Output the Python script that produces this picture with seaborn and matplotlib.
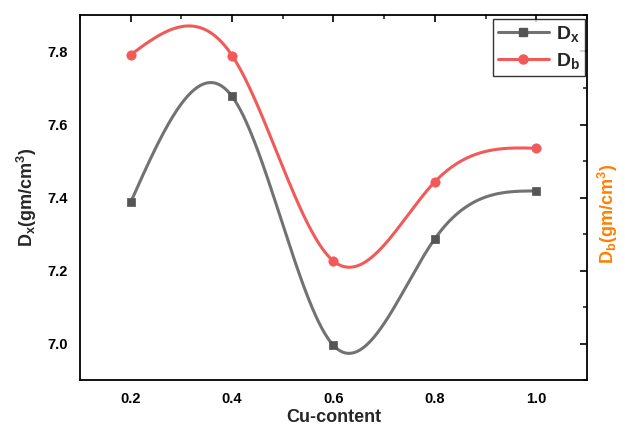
import numpy as np
import pandas as pd
import matplotlib
matplotlib.use("Agg")
import matplotlib.pyplot as plt
import seaborn as sns
from matplotlib.ticker import MultipleLocator
from matplotlib.lines import Line2D

cu_content = [0.2, 0.4, 0.6, 0.8, 1.0]
dx_values = [7.387, 7.677, 6.995, 7.287, 7.418]
db_values = [7.791, 7.789, 7.226, 7.443, 7.535]
x_ticks = [0.2, 0.4, 0.6, 0.8, 1.0]
y_ticks = [7.0, 7.2, 7.4, 7.6, 7.8]


def natural_spline(x, y, n=300):
    x = np.asarray(x, float)
    y = np.asarray(y, float)
    k = len(x)
    h = np.diff(x)
    A = np.zeros((k, k))
    b = np.zeros(k)
    A[0, 0] = 1
    A[-1, -1] = 1
    for i in range(1, k - 1):
        A[i, i - 1] = h[i - 1]
        A[i, i] = 2 * (h[i - 1] + h[i])
        A[i, i + 1] = h[i]
        b[i] = 3 * ((y[i + 1] - y[i]) / h[i] - (y[i] - y[i - 1]) / h[i - 1])
    c = np.linalg.solve(A, b)
    xs = np.linspace(x[0], x[-1], n)
    ys = np.empty_like(xs)
    for j, t in enumerate(xs):
        i = min(np.searchsorted(x, t, side="right") - 1, k - 2)
        bi = (y[i + 1] - y[i]) / h[i] - h[i] * (2 * c[i] + c[i + 1]) / 3
        di = (c[i + 1] - c[i]) / (3 * h[i])
        d = t - x[i]
        ys[j] = y[i] + bi * d + c[i] * d ** 2 + di * d ** 3
    return xs, ys


sns.set_theme(style="white")
plt.rcParams["font.family"] = ["Liberation Sans", "DejaVu Sans"]
plt.rcParams["font.weight"] = "bold"
plt.rcParams["mathtext.fontset"] = "custom"
plt.rcParams["mathtext.rm"] = "Liberation Sans:bold"
plt.rcParams["mathtext.it"] = "Liberation Sans:bold"
plt.rcParams["mathtext.bf"] = "Liberation Sans:bold"
plt.rcParams["mathtext.default"] = "bf"

gray = "#727272"
red = "#f25a5a"

fig = plt.figure(figsize=(6.25, 4.28), dpi=100)
ax = fig.add_axes([0.128, 0.112, 0.811, 0.853])

pts = pd.DataFrame({"x": cu_content, "Dx": dx_values, "Db": db_values})
xs, dx_s = natural_spline(cu_content, dx_values)
_, db_s = natural_spline(cu_content, db_values)
curves = pd.DataFrame({"x": xs, "Dx": dx_s, "Db": db_s})

sns.lineplot(data=curves, x="x", y="Dx", ax=ax, color=gray, lw=2.2)
sns.lineplot(data=curves, x="x", y="Db", ax=ax, color=red, lw=2.2)
sns.scatterplot(data=pts, x="x", y="Dx", ax=ax, marker="s", s=40, color="#555555", edgecolor="#555555", zorder=5)
sns.scatterplot(data=pts, x="x", y="Db", ax=ax, marker="o", s=45, color=red, edgecolor=red, zorder=5)

ax.set_xlim(0.1, 1.1)
ax.set_ylim(6.9, 7.9)
ax.set_xticks(x_ticks)
ax.set_xticklabels([f"{v:.1f}" for v in x_ticks])
ax.set_yticks(y_ticks)
ax.set_yticklabels([f"{v:.1f}" for v in y_ticks])
ax.xaxis.set_minor_locator(MultipleLocator(0.1))
ax.yaxis.set_minor_locator(MultipleLocator(0.1))
ax.tick_params(axis="both", which="major", direction="out", length=5, width=1.2,
               labelsize=10.5, colors="black", top=True, right=True)
ax.tick_params(axis="both", which="minor", direction="out", length=3, width=1.2,
               top=True, right=True)
for t in ax.xaxis.get_major_ticks() + ax.xaxis.get_minor_ticks():
    t.tick2line.set_marker(matplotlib.lines.TICKDOWN)
for t in ax.yaxis.get_major_ticks() + ax.yaxis.get_minor_ticks():
    t.tick2line.set_marker(matplotlib.lines.TICKLEFT)
for lbl in ax.get_xticklabels() + ax.get_yticklabels():
    lbl.set_fontweight("bold")

for s in ax.spines.values():
    s.set_color("black")
    s.set_linewidth(1.3)
    s.set_visible(True)

ax.set_xlabel("Cu-content", fontsize=13, fontweight="bold", labelpad=2)
ax.set_ylabel(r"D$_\mathregular{x}$(gm/cm$^\mathregular{3}$)", fontsize=13, fontweight="bold", labelpad=6)
fig.text(0.972, 0.5, r"D$_\mathregular{b}$(gm/cm$^\mathregular{3}$)", rotation=90, ha="center", va="center",
         fontsize=13, fontweight="bold", color="#ff7f00")

handles = [Line2D([], [], color=gray, lw=2.2, marker="s", markersize=6, markerfacecolor="#555555", markeredgecolor="#555555"),
           Line2D([], [], color=red, lw=2.2, marker="o", markersize=6.5, markerfacecolor=red, markeredgecolor=red)]
leg = ax.legend(handles, [r"D$_\mathregular{x}$", r"D$_\mathregular{b}$"], loc="upper right",
                bbox_to_anchor=(0.997, 0.988), fontsize=14, frameon=True, fancybox=False,
                handlelength=2.6, borderpad=0.25, labelspacing=0.35, handletextpad=0.4, borderaxespad=0.0)
leg.get_frame().set_edgecolor("black")
leg.get_frame().set_linewidth(1.0)
for t in leg.get_texts():
    t.set_fontweight("bold")

fig.savefig("out.png", dpi=100)
